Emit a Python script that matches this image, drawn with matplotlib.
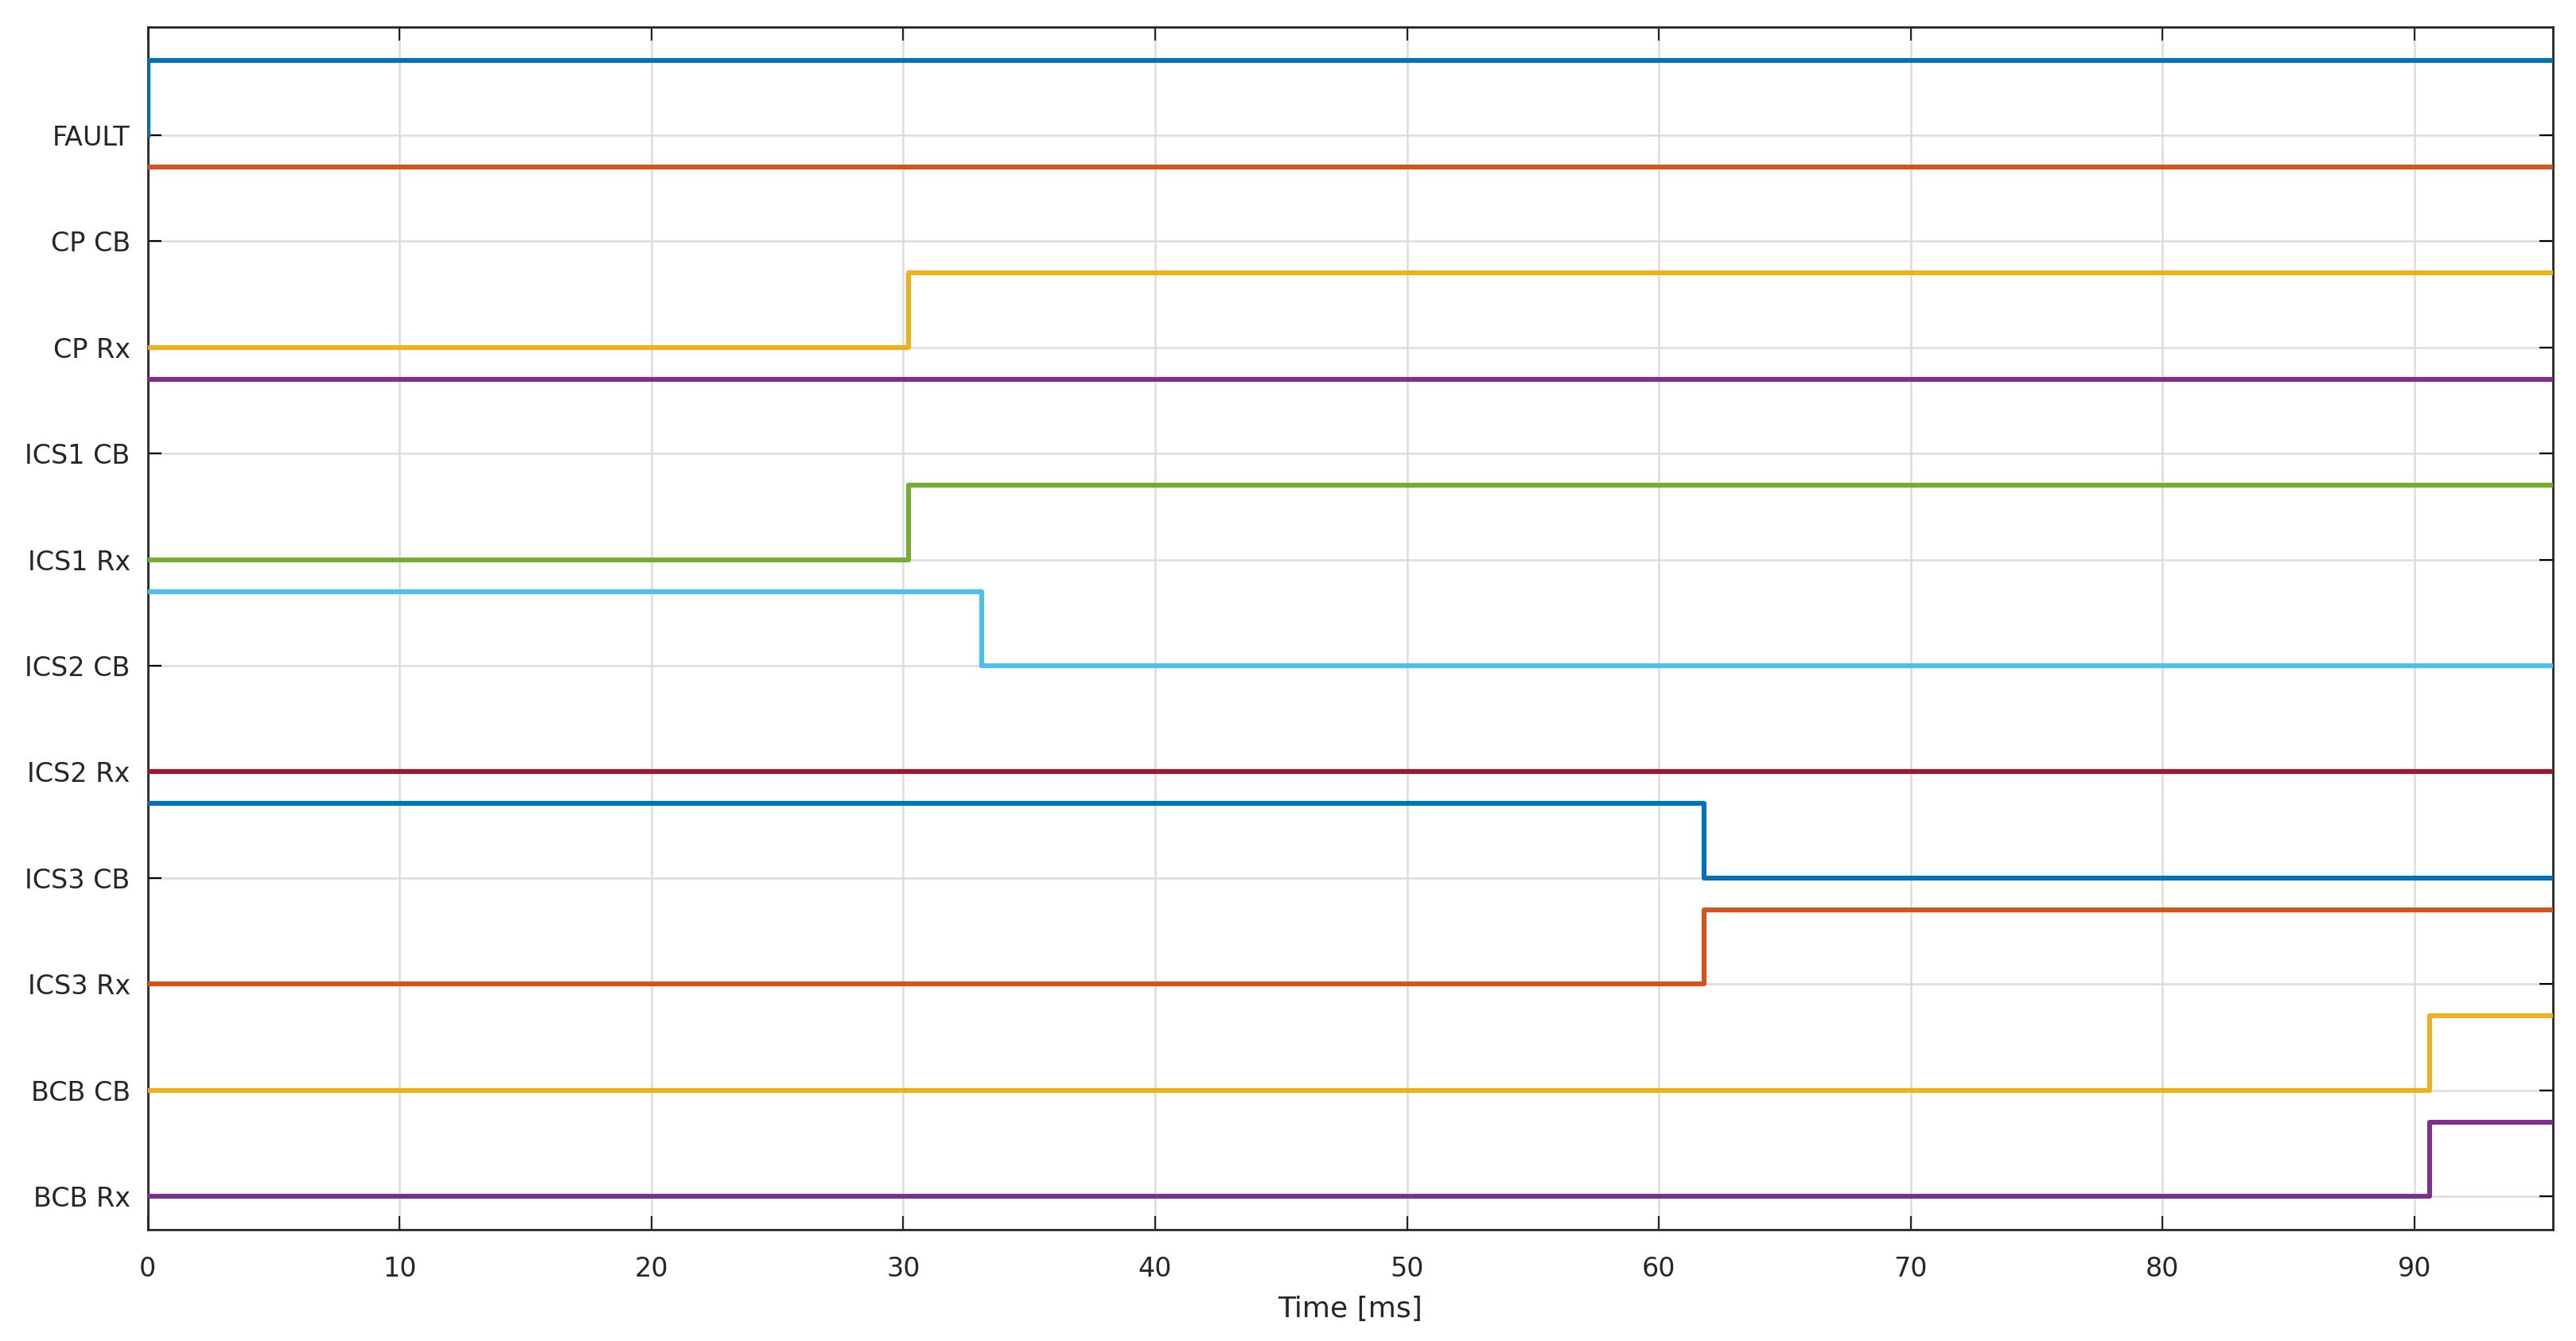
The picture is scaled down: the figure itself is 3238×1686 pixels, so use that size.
import matplotlib
matplotlib.use("Agg")
import matplotlib.pyplot as plt

labels = ["FAULT", "CP CB", "CP Rx", "ICS1 CB", "ICS1 Rx", "ICS2 CB",
          "ICS2 Rx", "ICS3 CB", "ICS3 Rx", "BCB CB", "BCB Rx"]
# (initial state, switch time, final state)
init_state = [0, 1, 0, 1, 0, 1, 0, 1, 0, 0, 0]
switch_time = [0.0, None, 30.2, None, 30.2, 33.1, None, 61.8, 61.8, 90.6, 90.6]
final_state = [1, 1, 1, 1, 1, 0, 0, 0, 1, 1, 1]
t_end = 95.5
colors = ["#0072BD", "#D95319", "#EDB120", "#7E2F8E", "#77AC30", "#4DBEEE",
          "#A2142F", "#0072BD", "#D95319", "#EDB120", "#7E2F8E"]
amp = 0.7

fig = plt.figure(figsize=(16.19, 8.43), dpi=200)
ax = fig.add_axes([0.0574, 0.0833, 0.9336, 0.8967])
n = len(labels)
for i, lab in enumerate(labels):
    base = n - 1 - i
    if switch_time[i] is None:
        xs = [0, t_end]; ys = [init_state[i], init_state[i]]
    else:
        ts = switch_time[i]
        xs = [0, ts, ts, t_end]
        ys = [init_state[i], init_state[i], final_state[i], final_state[i]]
    ax.plot(xs, [base + amp * y for y in ys], color=colors[i], lw=2.2, zorder=3)

ax.set_yticks(range(n))
ax.set_yticklabels(labels[::-1], fontsize=12, color="#262626")
ax.set_xticks(range(0, 100, 10))
ax.tick_params(axis="x", labelsize=12, colors="#262626", pad=12)
ax.tick_params(axis="y", pad=8)
ax.set_xlim(0, t_end)
ax.set_ylim(-0.31, n + 0.02)
ax.grid(True, color="#dcdcdc", lw=0.9)
ax.tick_params(direction="in", top=True, right=True, length=6)
for s in ax.spines.values():
    s.set_color("#262626"); s.set_linewidth(1.0)
ax.set_xlabel("Time [ms]", fontsize=13, color="#262626", labelpad=6)
fig.savefig("out.png", dpi=200)
